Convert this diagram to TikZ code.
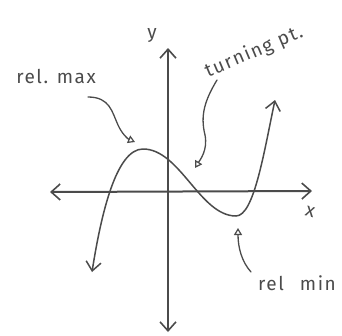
\documentclass[tikz,border=0pt]{standalone}
\usepackage{fontspec}
\setmainfont{Fira Sans}[LetterSpace=8]
\usetikzlibrary{arrows.meta}
\definecolor{ink}{RGB}{75,75,75}
\tikzset{
  axisline/.style={draw=ink, line width=2pt, line cap=round,
    {Straight Barb[length=9pt,width=16pt,line width=1.6pt]}-{Straight Barb[length=9pt,width=16pt,line width=1.6pt]}},
  curveline/.style={draw=ink, line width=1.5pt, line cap=round,
    {Straight Barb[length=9pt,width=15pt,line width=1.5pt]}-{Straight Barb[length=9pt,width=15pt,line width=1.5pt]}},
  pointer/.style={draw=ink, line width=1.3pt, line cap=round,
    -{Triangle[open,length=7pt,width=8pt,line width=1.2pt]}},
  hand/.style={text=ink, font=\fontsize{19}{22}\selectfont, inner sep=1pt},
}
\begin{document}
\begin{tikzpicture}[x=1pt,y=-1pt]
\useasboundingbox (0,0) rectangle (342,335);
% axes
\coordinate (yt) at (168,48);
\coordinate (yb) at (168,332);
\coordinate (xl) at (50,192);
\coordinate (xr) at (312,191);
\draw[axisline] (yb) -- (yt);
\draw[axisline] (xl) -- (xr);
% axis labels
\node[hand] (ylab) at (152,36) {y};
\node[hand, rotate=-15] (xlab) at (310,212) {x};
% curve
\coordinate (cstart) at (92,272);
\coordinate (cmax) at (143,149);
\coordinate (cmin) at (236,216);
\coordinate (cend) at (275,100);
\draw[curveline] (cstart) .. controls (101,215) and (116,149) .. (cmax)
  .. controls (180,149) and (200,216) .. (cmin)
  .. controls (254,216) and (264,152) .. (cend);
% labels
\node[hand] (relmax) at (56,76) {rel. max};
\node[hand, rotate=23] (turn) at (254,52) {turning pt.};
\node[hand] (relmin) at (297,283) {rel\hspace{16pt}min};
% pointers
\draw[pointer] (88,97) .. controls (110,97) and (112,112) .. (118,125)
  .. controls (122,134) and (128,139) .. (135,142);
\draw[pointer] (217,80) .. controls (205,100) and (200,115) .. (205,135)
  .. controls (208,150) and (200,160) .. (195,168);
\draw[pointer] (251,272) .. controls (242,262) and (238,248) .. (238,228);
\end{tikzpicture}
\end{document}
